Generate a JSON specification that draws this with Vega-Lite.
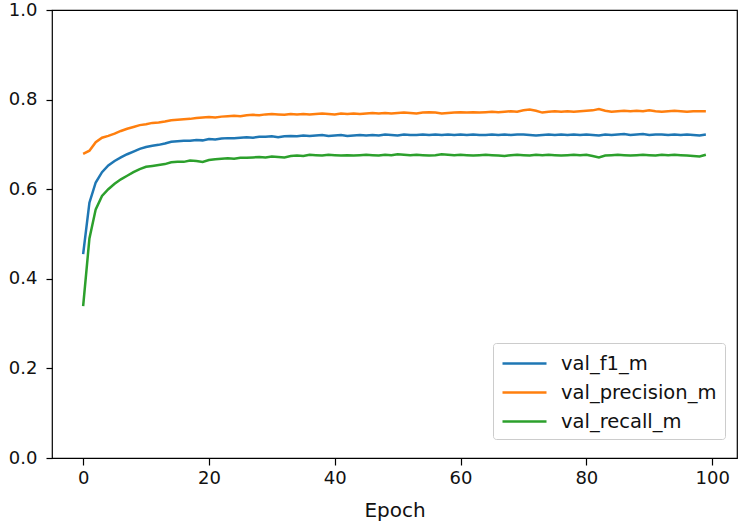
{
  "$schema": "https://vega.github.io/schema/vega-lite/v6.json",
  "width": 685,
  "height": 448,
  "autosize": {"type": "none"},
  "padding": {"left": 52, "top": 10, "right": 4, "bottom": 67},
  "background": "white",
  "config": {
    "font": "DejaVu Sans",
    "view": {"stroke": "black", "strokeWidth": 1.2},
    "axis": {
      "grid": false,
      "domain": false,
      "tickColor": "black",
      "tickSize": 6,
      "tickWidth": 1.2,
      "labelColor": "#111111",
      "labelFont": "DejaVu Sans",
      "labelFontSize": 18,
      "titleFont": "DejaVu Sans",
      "titleFontSize": 20,
      "titleFontWeight": "normal",
      "titleColor": "#111111"
    }
  },
  "data": {
    "values": [
      {"epoch":0,"val_f1_m":0.455,"val_precision_m":0.679,"val_recall_m":0.339},
      {"epoch":1,"val_f1_m":0.570,"val_precision_m":0.686,"val_recall_m":0.490},
      {"epoch":2,"val_f1_m":0.615,"val_precision_m":0.705,"val_recall_m":0.555},
      {"epoch":3,"val_f1_m":0.638,"val_precision_m":0.715,"val_recall_m":0.585},
      {"epoch":4,"val_f1_m":0.653,"val_precision_m":0.719,"val_recall_m":0.600},
      {"epoch":5,"val_f1_m":0.663,"val_precision_m":0.724,"val_recall_m":0.612},
      {"epoch":6,"val_f1_m":0.671,"val_precision_m":0.730,"val_recall_m":0.622},
      {"epoch":7,"val_f1_m":0.678,"val_precision_m":0.735,"val_recall_m":0.630},
      {"epoch":8,"val_f1_m":0.684,"val_precision_m":0.739,"val_recall_m":0.638},
      {"epoch":9,"val_f1_m":0.690,"val_precision_m":0.743,"val_recall_m":0.645},
      {"epoch":10,"val_f1_m":0.694,"val_precision_m":0.745,"val_recall_m":0.650},
      {"epoch":11,"val_f1_m":0.697,"val_precision_m":0.748,"val_recall_m":0.652},
      {"epoch":12,"val_f1_m":0.699,"val_precision_m":0.749,"val_recall_m":0.654},
      {"epoch":13,"val_f1_m":0.702,"val_precision_m":0.751,"val_recall_m":0.656},
      {"epoch":14,"val_f1_m":0.706,"val_precision_m":0.754,"val_recall_m":0.660},
      {"epoch":15,"val_f1_m":0.707,"val_precision_m":0.755,"val_recall_m":0.661},
      {"epoch":16,"val_f1_m":0.708,"val_precision_m":0.756,"val_recall_m":0.661},
      {"epoch":17,"val_f1_m":0.708,"val_precision_m":0.757,"val_recall_m":0.664},
      {"epoch":18,"val_f1_m":0.710,"val_precision_m":0.759,"val_recall_m":0.663},
      {"epoch":19,"val_f1_m":0.709,"val_precision_m":0.760,"val_recall_m":0.661},
      {"epoch":20,"val_f1_m":0.712,"val_precision_m":0.761,"val_recall_m":0.665},
      {"epoch":21,"val_f1_m":0.711,"val_precision_m":0.760,"val_recall_m":0.667},
      {"epoch":22,"val_f1_m":0.713,"val_precision_m":0.762,"val_recall_m":0.668},
      {"epoch":23,"val_f1_m":0.714,"val_precision_m":0.763,"val_recall_m":0.669},
      {"epoch":24,"val_f1_m":0.714,"val_precision_m":0.764,"val_recall_m":0.668},
      {"epoch":25,"val_f1_m":0.715,"val_precision_m":0.763,"val_recall_m":0.670},
      {"epoch":26,"val_f1_m":0.716,"val_precision_m":0.765,"val_recall_m":0.670},
      {"epoch":27,"val_f1_m":0.715,"val_precision_m":0.766,"val_recall_m":0.671},
      {"epoch":28,"val_f1_m":0.717,"val_precision_m":0.765,"val_recall_m":0.672},
      {"epoch":29,"val_f1_m":0.717,"val_precision_m":0.767,"val_recall_m":0.671},
      {"epoch":30,"val_f1_m":0.718,"val_precision_m":0.768,"val_recall_m":0.673},
      {"epoch":31,"val_f1_m":0.716,"val_precision_m":0.767,"val_recall_m":0.672},
      {"epoch":32,"val_f1_m":0.718,"val_precision_m":0.766,"val_recall_m":0.671},
      {"epoch":33,"val_f1_m":0.719,"val_precision_m":0.768,"val_recall_m":0.674},
      {"epoch":34,"val_f1_m":0.718,"val_precision_m":0.767,"val_recall_m":0.675},
      {"epoch":35,"val_f1_m":0.720,"val_precision_m":0.768,"val_recall_m":0.674},
      {"epoch":36,"val_f1_m":0.719,"val_precision_m":0.767,"val_recall_m":0.677},
      {"epoch":37,"val_f1_m":0.720,"val_precision_m":0.768,"val_recall_m":0.676},
      {"epoch":38,"val_f1_m":0.721,"val_precision_m":0.769,"val_recall_m":0.675},
      {"epoch":39,"val_f1_m":0.719,"val_precision_m":0.768,"val_recall_m":0.677},
      {"epoch":40,"val_f1_m":0.720,"val_precision_m":0.767,"val_recall_m":0.676},
      {"epoch":41,"val_f1_m":0.721,"val_precision_m":0.769,"val_recall_m":0.675},
      {"epoch":42,"val_f1_m":0.719,"val_precision_m":0.768,"val_recall_m":0.676},
      {"epoch":43,"val_f1_m":0.720,"val_precision_m":0.769,"val_recall_m":0.675},
      {"epoch":44,"val_f1_m":0.721,"val_precision_m":0.768,"val_recall_m":0.676},
      {"epoch":45,"val_f1_m":0.720,"val_precision_m":0.769,"val_recall_m":0.677},
      {"epoch":46,"val_f1_m":0.721,"val_precision_m":0.770,"val_recall_m":0.676},
      {"epoch":47,"val_f1_m":0.720,"val_precision_m":0.769,"val_recall_m":0.675},
      {"epoch":48,"val_f1_m":0.722,"val_precision_m":0.770,"val_recall_m":0.677},
      {"epoch":49,"val_f1_m":0.721,"val_precision_m":0.769,"val_recall_m":0.676},
      {"epoch":50,"val_f1_m":0.720,"val_precision_m":0.770,"val_recall_m":0.678},
      {"epoch":51,"val_f1_m":0.722,"val_precision_m":0.771,"val_recall_m":0.677},
      {"epoch":52,"val_f1_m":0.721,"val_precision_m":0.770,"val_recall_m":0.676},
      {"epoch":53,"val_f1_m":0.721,"val_precision_m":0.769,"val_recall_m":0.677},
      {"epoch":54,"val_f1_m":0.722,"val_precision_m":0.771,"val_recall_m":0.676},
      {"epoch":55,"val_f1_m":0.721,"val_precision_m":0.772,"val_recall_m":0.675},
      {"epoch":56,"val_f1_m":0.722,"val_precision_m":0.771,"val_recall_m":0.676},
      {"epoch":57,"val_f1_m":0.721,"val_precision_m":0.769,"val_recall_m":0.678},
      {"epoch":58,"val_f1_m":0.722,"val_precision_m":0.770,"val_recall_m":0.677},
      {"epoch":59,"val_f1_m":0.721,"val_precision_m":0.771,"val_recall_m":0.676},
      {"epoch":60,"val_f1_m":0.722,"val_precision_m":0.772,"val_recall_m":0.677},
      {"epoch":61,"val_f1_m":0.721,"val_precision_m":0.771,"val_recall_m":0.676},
      {"epoch":62,"val_f1_m":0.722,"val_precision_m":0.772,"val_recall_m":0.675},
      {"epoch":63,"val_f1_m":0.721,"val_precision_m":0.771,"val_recall_m":0.676},
      {"epoch":64,"val_f1_m":0.721,"val_precision_m":0.772,"val_recall_m":0.677},
      {"epoch":65,"val_f1_m":0.722,"val_precision_m":0.773,"val_recall_m":0.676},
      {"epoch":66,"val_f1_m":0.721,"val_precision_m":0.772,"val_recall_m":0.675},
      {"epoch":67,"val_f1_m":0.722,"val_precision_m":0.773,"val_recall_m":0.674},
      {"epoch":68,"val_f1_m":0.721,"val_precision_m":0.774,"val_recall_m":0.676},
      {"epoch":69,"val_f1_m":0.722,"val_precision_m":0.773,"val_recall_m":0.677},
      {"epoch":70,"val_f1_m":0.722,"val_precision_m":0.776,"val_recall_m":0.676},
      {"epoch":71,"val_f1_m":0.721,"val_precision_m":0.778,"val_recall_m":0.675},
      {"epoch":72,"val_f1_m":0.720,"val_precision_m":0.775,"val_recall_m":0.677},
      {"epoch":73,"val_f1_m":0.721,"val_precision_m":0.771,"val_recall_m":0.676},
      {"epoch":74,"val_f1_m":0.722,"val_precision_m":0.773,"val_recall_m":0.677},
      {"epoch":75,"val_f1_m":0.721,"val_precision_m":0.774,"val_recall_m":0.676},
      {"epoch":76,"val_f1_m":0.722,"val_precision_m":0.773,"val_recall_m":0.675},
      {"epoch":77,"val_f1_m":0.721,"val_precision_m":0.774,"val_recall_m":0.676},
      {"epoch":78,"val_f1_m":0.722,"val_precision_m":0.773,"val_recall_m":0.677},
      {"epoch":79,"val_f1_m":0.721,"val_precision_m":0.774,"val_recall_m":0.676},
      {"epoch":80,"val_f1_m":0.722,"val_precision_m":0.775,"val_recall_m":0.677},
      {"epoch":81,"val_f1_m":0.721,"val_precision_m":0.776,"val_recall_m":0.674},
      {"epoch":82,"val_f1_m":0.720,"val_precision_m":0.779,"val_recall_m":0.671},
      {"epoch":83,"val_f1_m":0.722,"val_precision_m":0.775,"val_recall_m":0.675},
      {"epoch":84,"val_f1_m":0.721,"val_precision_m":0.773,"val_recall_m":0.676},
      {"epoch":85,"val_f1_m":0.722,"val_precision_m":0.774,"val_recall_m":0.677},
      {"epoch":86,"val_f1_m":0.723,"val_precision_m":0.775,"val_recall_m":0.676},
      {"epoch":87,"val_f1_m":0.721,"val_precision_m":0.774,"val_recall_m":0.675},
      {"epoch":88,"val_f1_m":0.722,"val_precision_m":0.775,"val_recall_m":0.676},
      {"epoch":89,"val_f1_m":0.723,"val_precision_m":0.774,"val_recall_m":0.677},
      {"epoch":90,"val_f1_m":0.721,"val_precision_m":0.776,"val_recall_m":0.676},
      {"epoch":91,"val_f1_m":0.722,"val_precision_m":0.774,"val_recall_m":0.675},
      {"epoch":92,"val_f1_m":0.722,"val_precision_m":0.773,"val_recall_m":0.677},
      {"epoch":93,"val_f1_m":0.721,"val_precision_m":0.774,"val_recall_m":0.676},
      {"epoch":94,"val_f1_m":0.722,"val_precision_m":0.775,"val_recall_m":0.677},
      {"epoch":95,"val_f1_m":0.721,"val_precision_m":0.774,"val_recall_m":0.676},
      {"epoch":96,"val_f1_m":0.722,"val_precision_m":0.773,"val_recall_m":0.675},
      {"epoch":97,"val_f1_m":0.721,"val_precision_m":0.774,"val_recall_m":0.674},
      {"epoch":98,"val_f1_m":0.720,"val_precision_m":0.774,"val_recall_m":0.673},
      {"epoch":99,"val_f1_m":0.722,"val_precision_m":0.774,"val_recall_m":0.677}
    ]
  },
  "transform": [
    {"fold": ["val_f1_m", "val_precision_m", "val_recall_m"], "as": ["metric", "value"]}
  ],
  "mark": {"type": "line", "strokeWidth": 2.5, "clip": true},
  "encoding": {
    "x": {
      "field": "epoch",
      "type": "quantitative",
      "title": "Epoch",
      "scale": {"domain": [-4.95, 103.95], "nice": false, "zero": false},
      "axis": {"values": [0, 20, 40, 60, 80, 100], "format": "d", "tickSize": 7, "labelPadding": 4, "titlePadding": 13}
    },
    "y": {
      "field": "value",
      "type": "quantitative",
      "title": null,
      "scale": {"domain": [0, 1], "nice": false},
      "axis": {"values": [0, 0.2, 0.4, 0.6, 0.8, 1.0], "format": ".1f", "tickSize": 6, "labelPadding": 9}
    },
    "color": {
      "field": "metric",
      "type": "nominal",
      "scale": {
        "domain": ["val_f1_m", "val_precision_m", "val_recall_m"],
        "range": ["#1f77b4", "#ff7f0e", "#2ca02c"]
      },
      "legend": {
        "title": null,
        "orient": "none",
        "legendX": 441,
        "legendY": 333,
        "symbolType": "M-1,0H3",
        "symbolSize": 484,
        "symbolStrokeWidth": 2.5,
        "labelFontSize": 19.5,
        "labelFont": "DejaVu Sans",
        "labelColor": "#111111",
        "labelOffset": 35,
        "rowPadding": 7,
        "padding": 8,
        "strokeColor": "#cccccc",
        "fillColor": "white",
        "cornerRadius": 3
      }
    }
  }
}
